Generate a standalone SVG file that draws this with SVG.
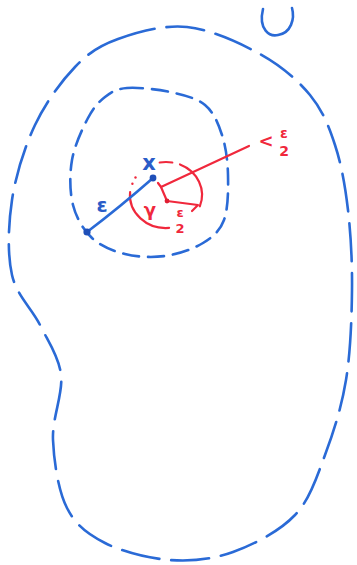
<svg xmlns="http://www.w3.org/2000/svg" width="357" height="565" viewBox="0 0 357 565">
<style>
.blue{fill:none;stroke:#2a6ad6;stroke-width:2.6;stroke-linecap:round;stroke-linejoin:round}
.red{fill:none;stroke:#f0283c;stroke-width:2.2;stroke-linecap:round;stroke-linejoin:round}
.bt{fill:#2a5cc8;font-family:"DejaVu Sans",sans-serif;font-weight:bold}
.rt{fill:#f0283c;font-family:"DejaVu Sans",sans-serif;font-weight:bold}
</style>
<rect width="357" height="565" fill="#ffffff"/>
<g id="outer-set">
<path class="blue" stroke-dasharray="38 12" d="M118,39 C136.7,32.3 163.3,24.5 187,27 C210.7,29.5 239.5,42.7 260,54 C280.5,65.3 297.5,79.8 310,95 C322.5,110.2 328.7,125.8 335,145 C341.3,164.2 345.2,185.8 348,210 C350.8,234.2 352.3,261.7 352,290 C351.7,318.3 350.5,352.5 346,380 C341.5,407.5 333.5,432.5 325,455 C316.5,477.5 310.3,498.8 295,515 C279.7,531.2 253.8,544.5 233,552 C212.2,559.5 191.3,561.5 170,560 C148.7,558.5 122.2,551.7 105,543 C87.8,534.3 75.7,525.2 67,508 C58.3,490.8 54,462.2 53,440 C52,417.8 63.2,394.2 61,375 C58.8,355.8 48.2,341.7 40,325 C31.8,308.3 16.7,295.8 12,275 C7.3,254.2 8.2,225 12,200 C15.8,175 24.5,147.2 35,125 C45.5,102.8 61.2,81.3 75,67 C88.8,52.7 99.3,45.7 118,39 Z"/>
<path class="blue" d="M263,9 C258,30 270,37 278,35 C291,33 295,19 292,8"/>
</g>
<g id="inner-ball">
<path class="blue" stroke-dasharray="16 9" d="M127,88 C137.8,87.2 157,89.2 170,92 C183,94.8 196.3,97.8 205,105 C213.7,112.2 218.2,123.3 222,135 C225.8,146.7 227.7,160.8 228,175 C228.3,189.2 228.2,208.7 224,220 C219.8,231.3 212.8,237 203,243 C193.2,249 178,254.2 165,256 C152,257.8 137.2,257 125,254 C112.8,251 100.7,246.2 92,238 C83.3,229.8 76.3,218 73,205 C69.7,192 69.5,174.5 72,160 C74.5,145.5 82.5,128.5 88,118 C93.5,107.5 98.5,102 105,97 C111.5,92 116.2,88.8 127,88 Z"/>
</g>
<g id="red-ball">
<path class="red" d="M159.7,162.5 A36 33 0 0 1 172.3,162.5"/>
<path class="red" d="M180,164.5 A36 33 0 0 1 199.8,206.3"/>
<path class="red" d="M169.1,227.9 A36 33 0 0 1 130.1,192.1"/>
<circle cx="132.4" cy="183.7" r="1.2" fill="#f0283c"/>
<circle cx="135.5" cy="177.5" r="1.2" fill="#f0283c"/>
</g>
<g id="connectors">
<path class="blue" d="M87,232 Q120,207 153,178"/>
<circle cx="87" cy="232" r="3.6" fill="#1f4fb8"/>
<circle cx="153" cy="178" r="3.4" fill="#1f4fb8"/>
<path class="red" d="M249,146 L161,187 L158,183"/>
<path class="red" d="M161,187 L167,201 L198,205 L192,211"/>
<circle cx="167" cy="201" r="2.4" fill="#e01e32"/>
</g>
<g id="labels">
<text class="bt" x="149" y="170" font-size="21" text-anchor="middle">x</text>
<text class="bt" x="102" y="212" font-size="20" text-anchor="middle">ε</text>
<text class="rt" x="150" y="216" font-size="18" text-anchor="middle">γ</text>
<text class="rt" x="180" y="217" font-size="13" text-anchor="middle">ε</text>
<text class="rt" x="180" y="233" font-size="13" text-anchor="middle">2</text>
<text class="rt" x="266" y="147" font-size="18" text-anchor="middle">&lt;</text>
<text class="rt" x="284" y="138" font-size="14" text-anchor="middle">ε</text>
<text class="rt" x="284" y="156" font-size="14" text-anchor="middle">2</text>
</g>
</svg>
